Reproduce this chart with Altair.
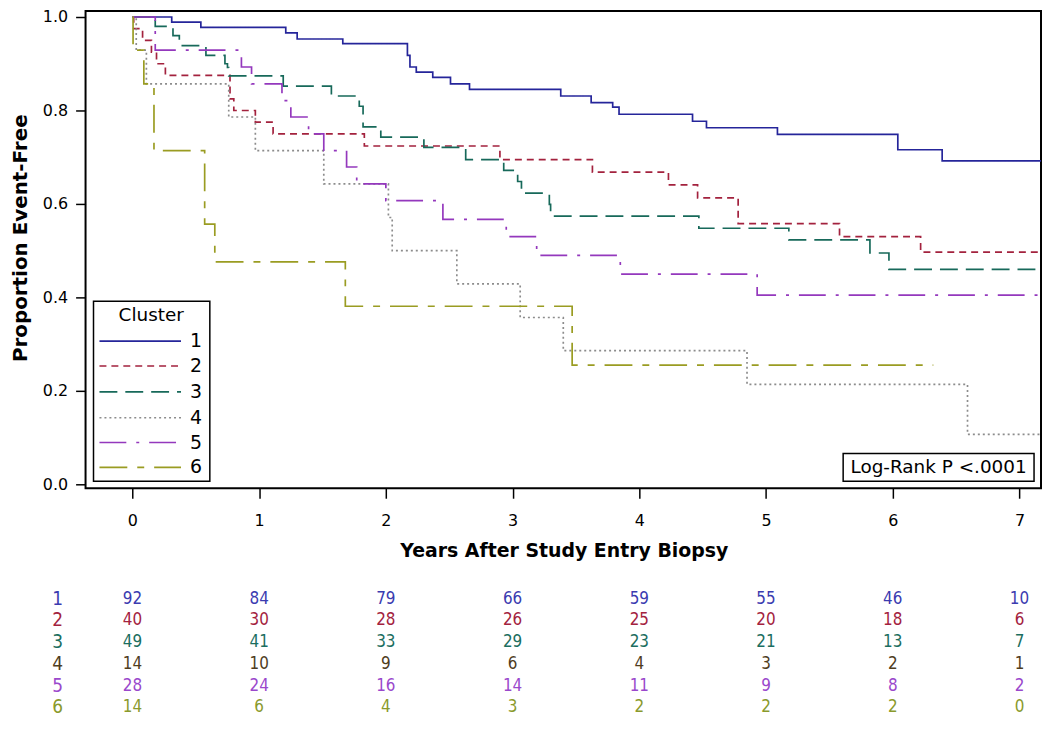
import altair as alt
import pandas as pd

# ---------------- data ----------------
clusters = ["1", "2", "3", "4", "5", "6"]
curve_colors = ["#25259a", "#a3223e", "#17695a", "#8c8c8c", "#9438bd", "#9a9c22"]
table_colors = ["#3b3bb0", "#a3223e", "#1b6e60", "#4f3d1e", "#9a48cc", "#8a9a2c"]
dash_patterns = [[1, 0], [7, 5], [18, 8], [2, 3], [27, 10, 3, 10], [28, 10, 7, 10]]

c1_t = [0, 0.31, 0.54, 1.21, 1.30, 1.66, 2.17, 2.19, 2.24, 2.37, 2.51, 2.66, 3.38, 3.62, 3.79, 3.84, 4.42, 4.53, 5.09, 6.04, 6.39]
c1_s = [1.0, 0.989, 0.978, 0.966, 0.953, 0.943, 0.918, 0.893, 0.882, 0.871, 0.857, 0.845, 0.831, 0.817, 0.807, 0.792, 0.777, 0.763, 0.749, 0.716, 0.692]

c2_t = [0, 0.01, 0.08, 0.15, 0.19, 0.26, 0.77, 0.80, 0.97, 1.11, 1.83, 2.90, 3.63, 4.23, 4.46, 4.78, 5.58, 6.22]
c2_s = [1.0, 0.975, 0.95, 0.925, 0.90, 0.875, 0.825, 0.80, 0.775, 0.75, 0.724, 0.695, 0.668, 0.641, 0.613, 0.558, 0.530, 0.497]

c3_t = [0, 0.18, 0.32, 0.37, 0.58, 0.73, 0.75, 0.76, 1.19, 1.57, 1.79, 1.82, 1.96, 2.30, 2.63, 2.93, 3.04, 3.07, 3.29, 3.30, 4.47, 5.18, 5.82, 5.97]
c3_s = [1.0, 0.98, 0.96, 0.939, 0.918, 0.90, 0.892, 0.874, 0.852, 0.831, 0.809, 0.765, 0.743, 0.721, 0.695, 0.672, 0.648, 0.623, 0.599, 0.574, 0.548, 0.523, 0.495, 0.460]

c4_t = [0, 0.03, 0.11, 0.76, 0.97, 1.51, 2.02, 2.05, 2.56, 3.06, 3.40, 4.85, 6.59]
c4_s = [1.0, 0.929, 0.857, 0.786, 0.714, 0.643, 0.571, 0.50, 0.429, 0.357, 0.286, 0.214, 0.107]

c5_t = [0, 0.18, 0.86, 0.94, 1.18, 1.25, 1.39, 1.51, 1.69, 1.77, 2.00, 2.45, 2.95, 3.19, 3.85, 4.93]
c5_s = [1.0, 0.929, 0.893, 0.857, 0.821, 0.786, 0.750, 0.714, 0.679, 0.643, 0.607, 0.567, 0.530, 0.490, 0.450, 0.405]

c6_t = [0, 0.005, 0.09, 0.17, 0.57, 0.65, 1.68, 3.47]
c6_s = [1.0, 0.929, 0.857, 0.714, 0.557, 0.476, 0.381, 0.255]

end_times = [7.25, 7.25, 7.25, 7.25, 7.25, 6.32]

years = [0, 1, 2, 3, 4, 5, 6, 7]
risk1 = [92, 84, 79, 66, 59, 55, 46, 10]
risk2 = [40, 30, 28, 26, 25, 20, 18, 6]
risk3 = [49, 41, 33, 29, 23, 21, 13, 7]
risk4 = [14, 10, 9, 6, 4, 3, 2, 1]
risk5 = [28, 24, 16, 14, 11, 9, 8, 2]
risk6 = [14, 6, 4, 3, 2, 2, 2, 0]

x_title = "Years After Study Entry Biopsy"
y_title = "Proportion Event-Free"
legend_title = "Cluster"
logrank_text = "Log-Rank P <.0001"

# ---------------- tables ----------------
curves_t = [c1_t, c2_t, c3_t, c4_t, c5_t, c6_t]
curves_s = [c1_s, c2_s, c3_s, c4_s, c5_s, c6_s]
rows = []
for cl, ts, ss, te in zip(clusters, curves_t, curves_s, end_times):
    for t, s in zip(ts, ss):
        rows.append({"cluster": cl, "t": t, "s": s})
    rows.append({"cluster": cl, "t": te, "s": ss[-1]})
curve_df = pd.DataFrame(rows)

# pixel rows (relative to plot origin) for legend entries and at-risk table
legend_y = [332, 357, 383, 409, 434, 459]
table_y = [591, 613, 635, 657, 679, 700]
risks = [risk1, risk2, risk3, risk4, risk5, risk6]

legend_df = pd.DataFrame({"cluster": clusters, "ly": legend_y})
trows = []
for cl, r, yy, col in zip(clusters, risks, table_y, table_colors):
    for yr, n in zip(years, r):
        trows.append({"cluster": cl, "t": yr, "n": str(n), "ry": yy, "tc": col})
table_df = pd.DataFrame(trows)
rowlab_df = pd.DataFrame({"cluster": clusters, "ry": table_y, "tc": table_colors})
one = pd.DataFrame({"a": [0]})

# ---------------- scales / encodings ----------------
xscale = alt.Scale(domain=[-0.37, 7.17], nice=False, zero=False)
yscale = alt.Scale(domain=[-0.0085, 1.0128], nice=False, zero=False)
xaxis = alt.Axis(values=years, format="d", title=x_title, titleX=481, titleY=63,
                 titleBaseline="middle", labelPadding=14, titleFontSize=19)
yaxis = alt.Axis(values=[0, 0.2, 0.4, 0.6, 0.8, 1.0], format=".1f", title=y_title,
                 titleX=-65, titleY=228, titleBaseline="middle", titleAngle=-90,
                 labelPadding=8, titleFontSize=20)
xenc = alt.X("t:Q", scale=xscale, axis=xaxis)
color_scale = alt.Scale(domain=clusters, range=curve_colors)
dash_scale = alt.Scale(domain=clusters, range=dash_patterns)
cenc = alt.Color("cluster:N", scale=color_scale, legend=None)
denc = alt.StrokeDash("cluster:N", scale=dash_scale, legend=None)

curves = alt.Chart(curve_df).mark_line(
    interpolate="step-after", strokeWidth=1.7, clip=True, strokeCap="butt"
).encode(
    x=xenc,
    y=alt.Y("s:Q", scale=yscale, axis=yaxis),
    color=cenc,
    strokeDash=denc,
)

# legend box
leg_box = alt.Chart(one).mark_rect(fill="white", stroke="black", strokeWidth=1.5).encode(
    x=alt.value(8), x2=alt.value(125), y=alt.value(292), y2=alt.value(473)
)
leg_title = alt.Chart(one).mark_text(
    text=legend_title, font="DejaVu Sans", fontSize=18.5, color="black", align="center", baseline="middle"
).encode(x=alt.value(66), y=alt.value(306))
leg_lines = alt.Chart(legend_df).mark_rule(strokeWidth=1.6, strokeCap="butt").encode(
    x=alt.value(14), x2=alt.value(96),
    y=alt.Y("ly:Q", scale=None, title=None),
    color=cenc, strokeDash=denc,
)
leg_labels = alt.Chart(legend_df).mark_text(
    font="DejaVu Sans", fontSize=19, color="black", align="center", baseline="middle"
).encode(x=alt.value(111), y=alt.Y("ly:Q", scale=None, title=None), text="cluster:N")

# log-rank box
lr_box = alt.Chart(one).mark_rect(fill="white", stroke="black", strokeWidth=1.5).encode(
    x=alt.value(762), x2=alt.value(954), y=alt.value(445), y2=alt.value(473)
)
lr_text = alt.Chart(one).mark_text(
    text=logrank_text, font="DejaVu Sans", fontSize=18.5, color="black", align="center", baseline="middle"
).encode(x=alt.value(858), y=alt.value(459))

# at-risk table
narrow = "Liberation Sans Narrow, DejaVu Sans Condensed, Liberation Sans, sans-serif"
table_txt = alt.Chart(table_df).mark_text(
    font=narrow, fontSize=17, align="center", baseline="middle"
).encode(
    x=xenc,
    y=alt.Y("ry:Q", scale=None, title=None),
    text="n:N",
    color=alt.Color("tc:N", scale=None),
)
row_labels = alt.Chart(rowlab_df).mark_text(
    font=narrow, fontSize=19, align="center", baseline="middle"
).encode(
    x=alt.value(-28),
    y=alt.Y("ry:Q", scale=None, title=None),
    text="cluster:N",
    color=alt.Color("tc:N", scale=None),
)

chart = alt.layer(
    curves, leg_box, leg_title, leg_lines, leg_labels, lr_box, lr_text, table_txt, row_labels
).properties(
    width=961, height=480,
    autosize=alt.AutoSizeParams(type="none"),
    padding={"left": 78, "top": 1, "right": 1, "bottom": 231},
).configure_view(
    stroke="black", strokeWidth=2
).configure_axis(
    grid=False, domain=False, tickColor="black", tickSize=10, tickWidth=1.5,
    labelColor="black", labelFont="DejaVu Sans", labelFontSize=16,
    titleFont="DejaVu Sans", titleFontWeight="bold", titleColor="black",
)

chart.save("out.html", embed_options={"renderer": "svg", "actions": False})
